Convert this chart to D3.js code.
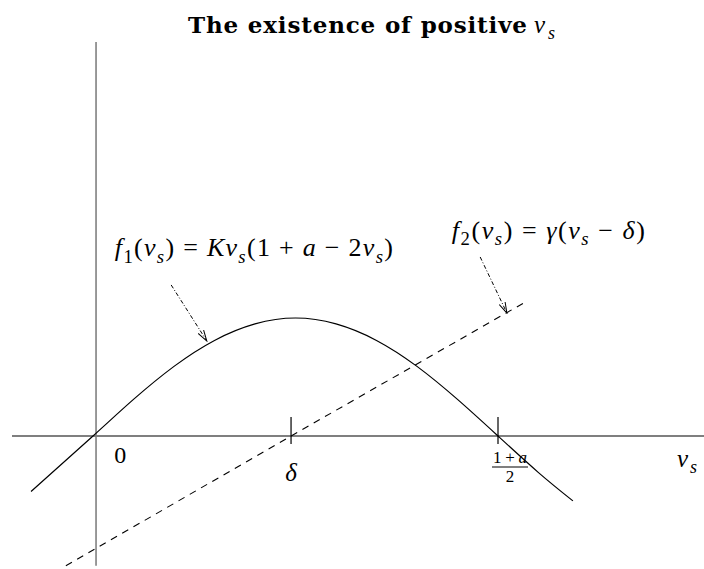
<!DOCTYPE html>
<html>
<head>
<meta charset="utf-8">
<script src="https://cdn.jsdelivr.net/npm/d3@7"></script>
<style>
  html, body { margin: 0; padding: 0; background: #fff; }
  svg { display: block; }
</style>
</head>
<body>
<svg id="chart" width="704" height="569"></svg>
<script>
// ---------- data (v in units of (1+a)/2, f in units of the f1 peak) ----------
const f1V = [-0.153, 0, 0.1, 0.2, 0.3, 0.4, 0.5, 0.6, 0.7, 0.8, 0.9, 1.0, 1.1, 1.185];
const f1F = [-0.47, 0, 0.31, 0.59, 0.81, 0.95, 1.0, 0.95, 0.81, 0.59, 0.31, 0, -0.31, -0.55];
const f2V = [-0.067, 0.489, 1.072];
const f2F = [-1.10, 0, 1.144];
const tickV = [0.489, 1.0];
const xAxisRange = [-0.2, 1.51];
const yAxisRange = [-1.10, 3.34];
const yAxisV = 0.0075;
const arrowFrom = [[0.193, 1.28], [0.956, 1.517]];
const arrowTo = [[0.281, 0.805], [1.022, 1.042]];
const titleText = "The existence of positive";

const svg = d3.select("#chart");
const x = d3.scaleLinear().domain([0, 1]).range([93, 498]);
const y = d3.scaleLinear().domain([0, 1]).range([436, 318]);

const serif = "'Liberation Serif', 'Times New Roman', serif";

// helper for math text with subscripts
function mathText(g, px, py, parts, size, anchor, width) {
  const t = g.append("text").attr("x", px).attr("y", py)
    .attr("font-family", serif).attr("font-size", size)
    .attr("text-anchor", anchor || "start").attr("fill", "#000");
  if (width) t.attr("textLength", width).attr("lengthAdjust", "spacing");
  let shift = 0;
  parts.forEach(([txt, st]) => {
    const sub = st.startsWith("s");
    const ts = t.append("tspan").text(txt)
      .attr("font-style", st.endsWith("i") ? "italic" : "normal");
    const target = sub ? size * 0.25 : 0;
    if (target !== shift) { ts.attr("dy", target - shift); shift = target; }
    if (sub) ts.attr("font-size", size * 0.72);
  });
  return t;
}

// axes
svg.append("line")
  .attr("x1", x(xAxisRange[0])).attr("x2", x(xAxisRange[1]))
  .attr("y1", y(0)).attr("y2", y(0))
  .attr("stroke", "#000").attr("stroke-width", 1.2);
svg.append("line")
  .attr("x1", x(yAxisV)).attr("x2", x(yAxisV))
  .attr("y1", y(yAxisRange[1])).attr("y2", y(yAxisRange[0]))
  .attr("stroke", "#808080").attr("stroke-width", 1.6);

// ticks
svg.selectAll(".tick").data(tickV).join("line")
  .attr("x1", d => x(d)).attr("x2", d => x(d))
  .attr("y1", y(0) - 19).attr("y2", y(0) + 8)
  .attr("stroke", "#000").attr("stroke-width", 1.2);

// f1 curve
const pts1 = f1V.map((v, i) => [x(v), y(f1F[i])]);
svg.append("path")
  .attr("d", d3.line().curve(d3.curveNatural)(pts1))
  .attr("fill", "none").attr("stroke", "#000").attr("stroke-width", 1.2);

// f2 dashed line
const pts2 = f2V.map((v, i) => [x(v), y(f2F[i])]);
svg.append("path")
  .attr("d", d3.line()(pts2))
  .attr("fill", "none").attr("stroke", "#000").attr("stroke-width", 1.1)
  .attr("stroke-dasharray", "7,6");

// arrow marker
svg.append("defs").append("marker")
  .attr("id", "arr").attr("viewBox", "0 0 12 8")
  .attr("refX", 11).attr("refY", 4)
  .attr("markerWidth", 12).attr("markerHeight", 8)
  .attr("markerUnits", "userSpaceOnUse").attr("orient", "auto")
  .append("path").attr("d", "M0,0.8 L11,4 L0,7.2")
  .attr("fill", "none").attr("stroke", "#000").attr("stroke-width", 1);

arrowFrom.forEach((a, i) => {
  svg.append("line")
    .attr("x1", x(a[0])).attr("y1", y(a[1]))
    .attr("x2", x(arrowTo[i][0])).attr("y2", y(arrowTo[i][1]))
    .attr("stroke", "#000").attr("stroke-width", 1)
    .attr("stroke-dasharray", "4,2,1,2")
    .attr("marker-end", "url(#arr)");
});

// labels
const size = 26;
mathText(svg, x(0.054), y(1.525),
  [["f", "i"], ["1", "sr"], ["(", "r"], ["v", "i"], ["s", "si"], [")  =  ", "r"],
   ["Kv", "i"], ["s", "si"], ["(1 + ", "r"], ["a", "i"], [" − 2", "r"], ["v", "i"], ["s", "si"], [")", "r"]],
  size, "start", 278);
mathText(svg, x(0.886), y(1.67),
  [["f", "i"], ["2", "sr"], ["(", "r"], ["v", "i"], ["s", "si"], [")  =  ", "r"],
   ["γ", "i"], ["(", "r"], ["v", "i"], ["s", "si"], [" − ", "r"], ["δ", "i"], [")", "r"]],
  size, "start", 193);

// tick labels
svg.append("text").attr("x", x(0.067)).attr("y", y(0) + 27)
  .attr("font-family", serif).attr("font-size", 24).attr("text-anchor", "middle").text("0");
svg.append("text").attr("x", x(tickV[0])).attr("y", y(0) + 45)
  .attr("font-family", serif).attr("font-size", 25).attr("font-style", "italic")
  .attr("text-anchor", "middle").text("δ");
// fraction (1+a)/2
const fx = x(tickV[1]) + 12;
mathText(svg, fx, y(0) + 27, [["1+", "r"], ["a", "i"]], 17, "middle", 34);
svg.append("line").attr("x1", fx - 18).attr("x2", fx + 18)
  .attr("y1", y(0) + 31).attr("y2", y(0) + 31)
  .attr("stroke", "#000").attr("stroke-width", 1.2);
svg.append("text").attr("x", fx).attr("y", y(0) + 46)
  .attr("font-family", serif).attr("font-size", 17).attr("text-anchor", "middle").text("2");
// axis variable label
mathText(svg, x(1.442), y(0) + 31, [["v", "i"], ["s", "si"]], 25, "start", 20);

// title
svg.append("text").attr("x", 188).attr("y", 33)
  .attr("font-family", "'DejaVu Serif', serif").attr("font-size", 23).attr("font-weight", "bold")
  .attr("textLength", 339).attr("lengthAdjust", "spacing")
  .text(titleText);
mathText(svg, 534, 33, [["v", "i"], ["s", "si"]], 25, "start", 21);
</script>
</body>
</html>
